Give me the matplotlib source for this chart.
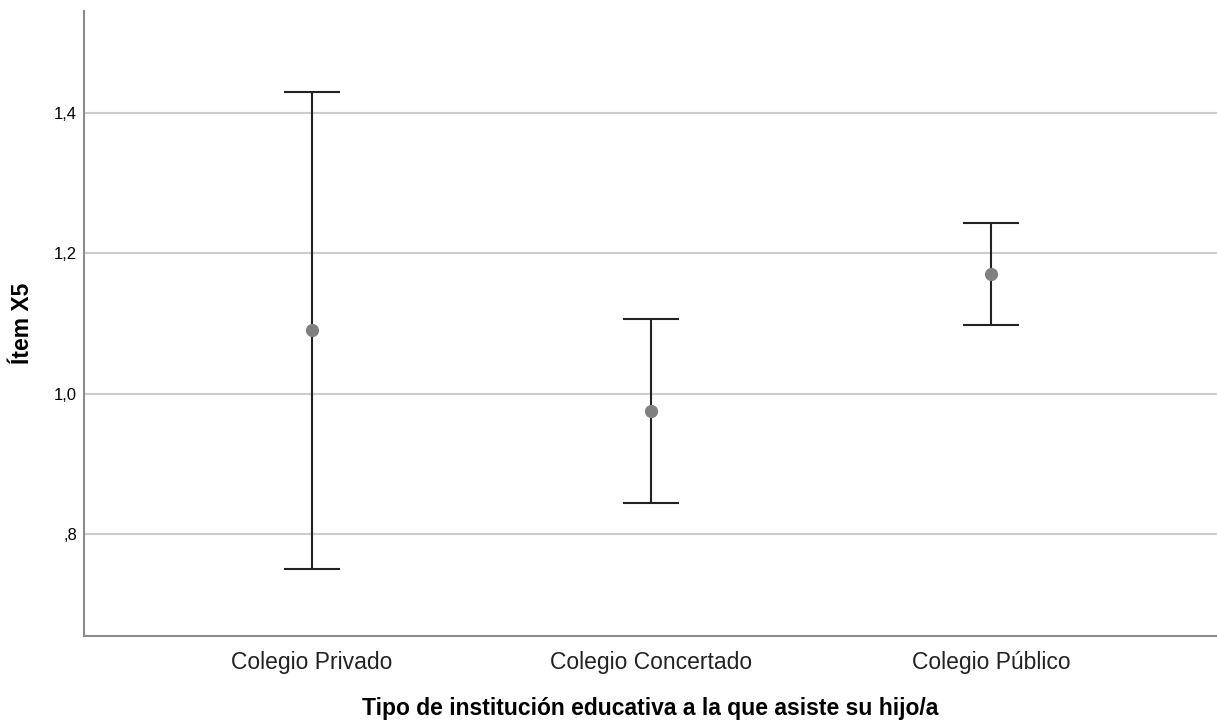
import matplotlib.pyplot as plt
import numpy as np

# Error bar chart (mean and 95% CI) per school type
categories = ['Colegio Privado', 'Colegio Concertado', 'Colegio Público']
means = [1.091, 0.976, 1.171]
ci_low = [0.751, 0.844, 1.098]
ci_high = [1.430, 1.106, 1.243]
yticks = [0.8, 1.0, 1.2, 1.4]
ytick_labels = [',8', '1,0', '1,2', '1,4']

plt.rcParams['font.family'] = ['Liberation Sans', 'DejaVu Sans']

fig = plt.figure(figsize=(12.17, 7.21), dpi=100)
ax = fig.add_axes([84 / 1217, 1 - 636 / 721, 1 - 84 / 1217, 625 / 721])

x = np.arange(len(categories))
m = np.array(means)
err = [m - np.array(ci_low), np.array(ci_high) - m]
ax.errorbar(x, m, yerr=err, fmt='none', ecolor='#222222', elinewidth=1.5,
            capsize=20, capthick=1.5, zorder=3)
ax.plot(x, m, 'o', color='#808080', markersize=8.5, zorder=4)

ax.set_xlim(-0.67, 2.665)
ax.set_ylim(0.655, 1.545)
ax.set_yticks(yticks)
ax.set_yticklabels(ytick_labels, fontsize=12)
ax.set_xticks(x)
ax.set_xticklabels(categories, fontsize=16.5, color='#222222')
ax.tick_params(axis='both', length=0)
ax.tick_params(axis='x', pad=11)
ax.tick_params(axis='y', pad=5)

ax.yaxis.grid(True, color='#cccccc', linewidth=1.5)
ax.set_axisbelow(True)
for s in ['top', 'right']:
    ax.spines[s].set_visible(False)
for s in ['left', 'bottom']:
    ax.spines[s].set_color('#8c8c8c')
    ax.spines[s].set_linewidth(1.5)

ax.set_xlabel('Tipo de institución educativa a la que asiste su hijo/a',
              fontsize=16.5, fontweight='bold', labelpad=16)
ax.set_ylabel('Ítem X5', fontsize=16.5, fontweight='bold', labelpad=14)

fig.savefig('out.png', dpi=100)
